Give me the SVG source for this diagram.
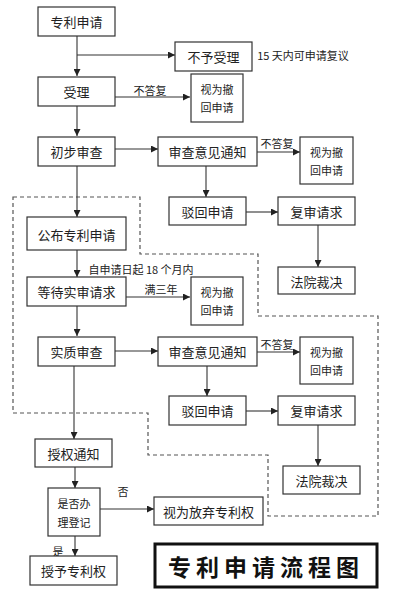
<svg xmlns="http://www.w3.org/2000/svg" width="400" height="601" viewBox="0 0 400 601">
<style>
.b{fill:#fff;stroke:#333;stroke-width:1.2}
.t{font-family:"Noto Sans CJK SC","Noto Sans",sans-serif;font-size:13px;fill:#222;text-anchor:middle;dominant-baseline:central}
.s{font-family:"Noto Sans CJK SC","Noto Sans",sans-serif;font-size:11px;fill:#222;text-anchor:middle;dominant-baseline:central}
.l{fill:none;stroke:#333;stroke-width:1.1}
.d{fill:none;stroke:#555;stroke-width:1.2;stroke-dasharray:4 3}
</style>
<defs>
<marker id="a" viewBox="0 0 8 8" refX="8" refY="4" markerWidth="7" markerHeight="7" markerUnits="userSpaceOnUse" orient="auto">
<path d="M0,0L8,4L0,8z" fill="#222"/>
</marker>
</defs>
<rect width="400" height="601" fill="#fff"/>
<path class="d" d="M13,197H140V254H258V316H378V516H268V455H148V413H13Z"/>
<g id="connectors">
<path class="l" d="M77,36V76" marker-end="url(#a)"/>
<path class="l" d="M77,55H175" marker-end="url(#a)"/>
<path class="l" d="M115,97H190" marker-end="url(#a)"/>
<path class="l" d="M77,106V136" marker-end="url(#a)"/>
<path class="l" d="M115,149H158" marker-end="url(#a)"/>
<path class="l" d="M257,152H300" marker-end="url(#a)"/>
<path class="l" d="M206,166V197" marker-end="url(#a)"/>
<path class="l" d="M246,212H278" marker-end="url(#a)"/>
<path class="l" d="M318,225V267" marker-end="url(#a)"/>
<path class="l" d="M77,166V217" marker-end="url(#a)"/>
<path class="l" d="M77,250V277" marker-end="url(#a)"/>
<path class="l" d="M126,297H190" marker-end="url(#a)"/>
<path class="l" d="M77,306V336" marker-end="url(#a)"/>
<path class="l" d="M115,351H158" marker-end="url(#a)"/>
<path class="l" d="M257,352H300" marker-end="url(#a)"/>
<path class="l" d="M207,366V396" marker-end="url(#a)"/>
<path class="l" d="M246,411H278" marker-end="url(#a)"/>
<path class="l" d="M318,425V466" marker-end="url(#a)"/>
<path class="l" d="M74,366V439" marker-end="url(#a)"/>
<path class="l" d="M75,467V488" marker-end="url(#a)"/>
<path class="l" d="M100,509H154" marker-end="url(#a)"/>
<path class="l" d="M75,536V556" marker-end="url(#a)"/>
</g>
<g id="labels">
<text class="s" x="303" y="55">15 天内可申请复议</text>
<text class="s" x="150" y="90">不答复</text>
<text class="s" x="277" y="143">不答复</text>
<text class="s" x="141" y="269">自申请日起 18 个月内</text>
<text class="s" x="161" y="289">满三年</text>
<text class="s" x="277" y="344">不答复</text>
<text class="s" x="123" y="491">否</text>
<text class="s" x="58" y="551">是</text>
</g>
<g id="n1"><rect class="b" x="38" y="7" width="77" height="29"/><text class="t" x="76.5" y="21.5">专利申请</text></g>
<g id="n2"><rect class="b" x="175" y="42" width="77" height="29"/><text class="t" x="213.5" y="56">不予受理</text></g>
<g id="n3"><rect class="b" x="38" y="77" width="77" height="29"/><text class="t" x="76.5" y="91">受理</text></g>
<g id="n4"><rect class="b" x="191" y="74" width="52" height="48"/><text class="s" x="217" y="89">视为撤</text><text class="s" x="217" y="107">回申请</text></g>
<g id="n5"><rect class="b" x="38" y="137" width="77" height="29"/><text class="t" x="76.5" y="151">初步审查</text></g>
<g id="n6"><rect class="b" x="158" y="137" width="99" height="29"/><text class="t" x="207.5" y="151">审查意见通知</text></g>
<g id="n7"><rect class="b" x="300" y="137" width="53" height="47"/><text class="s" x="326.5" y="152">视为撤</text><text class="s" x="326.5" y="170">回申请</text></g>
<g id="n8"><rect class="b" x="169" y="197" width="77" height="28"/><text class="t" x="207.5" y="211">驳回申请</text></g>
<g id="n9"><rect class="b" x="278" y="197" width="77" height="28"/><text class="t" x="316.5" y="211">复审请求</text></g>
<g id="n10"><rect class="b" x="278" y="267" width="77" height="27"/><text class="t" x="316.5" y="281">法院裁决</text></g>
<g id="n11"><rect class="b" x="27" y="217" width="99" height="33"/><text class="t" x="76.5" y="234">公布专利申请</text></g>
<g id="n12"><rect class="b" x="27" y="277" width="99" height="29"/><text class="t" x="76.5" y="291">等待实审请求</text></g>
<g id="n13"><rect class="b" x="191" y="277" width="52" height="48"/><text class="s" x="217" y="292">视为撤</text><text class="s" x="217" y="310">回申请</text></g>
<g id="n14"><rect class="b" x="38" y="337" width="77" height="29"/><text class="t" x="76.5" y="351">实质审查</text></g>
<g id="n15"><rect class="b" x="158" y="337" width="99" height="29"/><text class="t" x="207.5" y="351">审查意见通知</text></g>
<g id="n16"><rect class="b" x="300" y="337" width="53" height="47"/><text class="s" x="326.5" y="352">视为撤</text><text class="s" x="326.5" y="370">回申请</text></g>
<g id="n17"><rect class="b" x="169" y="396" width="77" height="29"/><text class="t" x="207.5" y="410.5">驳回申请</text></g>
<g id="n18"><rect class="b" x="278" y="396" width="77" height="29"/><text class="t" x="316.5" y="410.5">复审请求</text></g>
<g id="n19"><rect class="b" x="283" y="466" width="77" height="28"/><text class="t" x="321.5" y="480">法院裁决</text></g>
<g id="n20"><rect class="b" x="35" y="439" width="77" height="28"/><text class="t" x="73.5" y="453">授权通知</text></g>
<g id="n21"><rect class="b" x="48" y="488" width="52" height="48"/><text class="s" x="74" y="503">是否办</text><text class="s" x="74" y="522">理登记</text></g>
<g id="n22"><rect class="b" x="154" y="497" width="109" height="28"/><text class="t" x="208.5" y="511">视为放弃专利权</text></g>
<g id="n23"><rect class="b" x="30" y="556" width="87" height="29"/><text class="t" x="73.5" y="570.5">授予专利权</text></g>
<g id="title"><rect x="155" y="544" width="222" height="43" fill="#fff" stroke="#111" stroke-width="3"/><text x="266" y="566" font-family="'Noto Sans CJK SC',sans-serif" font-size="23" font-weight="bold" fill="#111" text-anchor="middle" dominant-baseline="central" letter-spacing="5">专利申请流程图</text></g>
</svg>
